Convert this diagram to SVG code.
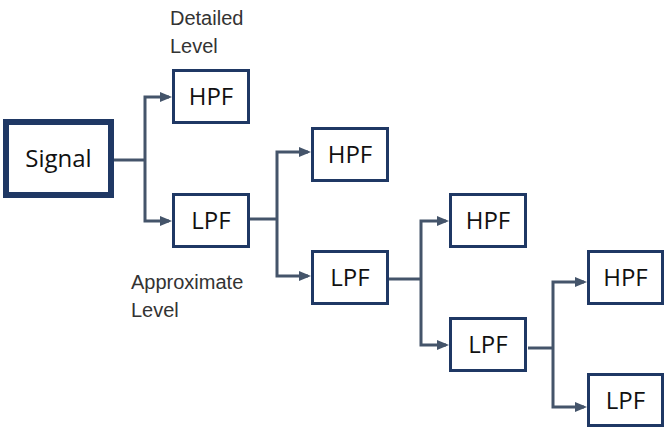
<svg xmlns="http://www.w3.org/2000/svg" width="664" height="428" viewBox="0 0 664 428">
  <style>
    .box { fill: #ffffff; stroke: #1f3864; stroke-width: 3; }
    .src { fill: #ffffff; stroke: #1f3864; stroke-width: 6; }
    .lbl { font-family: "Open Sans", "Noto Sans", sans-serif; font-size: 24px; fill: #111111; text-anchor: middle; }
    .note { font-family: "Liberation Sans", Arial, sans-serif; font-size: 20px; fill: #333333; }
    .wire { fill: none; stroke: #44546a; stroke-width: 3; stroke-linejoin: miter; }
  </style>
  <defs>
    <marker id="arrow" markerUnits="userSpaceOnUse" markerWidth="13" markerHeight="11" refX="9" refY="5" orient="auto">
      <path d="M0,0 L12,5 L0,10 z" fill="#44546a"/>
    </marker>
  </defs>

  <!-- level captions -->
  <text class="note" x="170" y="25">Detailed</text>
  <text class="note" x="170" y="53">Level</text>
  <text class="note" x="131" y="289">Approximate</text>
  <text class="note" x="131" y="317">Level</text>

  <!-- filter-bank branches -->
  <g id="connectors">
    <path class="wire" d="M114,160 H145"/>
    <path class="wire" d="M145,160 V97 H169" marker-end="url(#arrow)"/>
    <path class="wire" d="M145,160 V221 H169" marker-end="url(#arrow)"/>

    <path class="wire" d="M250,219 H277"/>
    <path class="wire" d="M277,219 V152 H308" marker-end="url(#arrow)"/>
    <path class="wire" d="M277,219 V276 H308" marker-end="url(#arrow)"/>

    <path class="wire" d="M389,279 H421"/>
    <path class="wire" d="M421,279 V221 H446" marker-end="url(#arrow)"/>
    <path class="wire" d="M421,279 V345 H446" marker-end="url(#arrow)"/>

    <path class="wire" d="M528,348 H553"/>
    <path class="wire" d="M553,348 V282 H584" marker-end="url(#arrow)"/>
    <path class="wire" d="M553,348 V407 H584" marker-end="url(#arrow)"/>
  </g>

  <g id="signal">
    <rect class="src" x="6" y="122" width="105" height="73"/>
    <text class="lbl" x="58.5" y="167">Signal</text>
  </g>

  <g id="hpf1">
    <rect class="box" x="173.5" y="70.5" width="75" height="52"/>
    <text class="lbl" x="211" y="105">HPF</text>
  </g>
  <g id="lpf1">
    <rect class="box" x="173.5" y="194.5" width="75" height="52"/>
    <text class="lbl" x="211" y="229">LPF</text>
  </g>

  <g id="hpf2">
    <rect class="box" x="312.5" y="128.5" width="75" height="52"/>
    <text class="lbl" x="350" y="163">HPF</text>
  </g>
  <g id="lpf2">
    <rect class="box" x="312.5" y="251.5" width="75" height="52"/>
    <text class="lbl" x="350" y="286">LPF</text>
  </g>

  <g id="hpf3">
    <rect class="box" x="450.5" y="194.5" width="75" height="52"/>
    <text class="lbl" x="488" y="229">HPF</text>
  </g>
  <g id="lpf3">
    <rect class="box" x="450.5" y="318.5" width="75" height="52"/>
    <text class="lbl" x="488" y="353">LPF</text>
  </g>

  <g id="hpf4">
    <rect class="box" x="588.5" y="251.5" width="74" height="52"/>
    <text class="lbl" x="625.5" y="286">HPF</text>
  </g>
  <g id="lpf4">
    <rect class="box" x="588.5" y="374.5" width="74" height="51"/>
    <text class="lbl" x="625.5" y="408.5">LPF</text>
  </g>
</svg>
